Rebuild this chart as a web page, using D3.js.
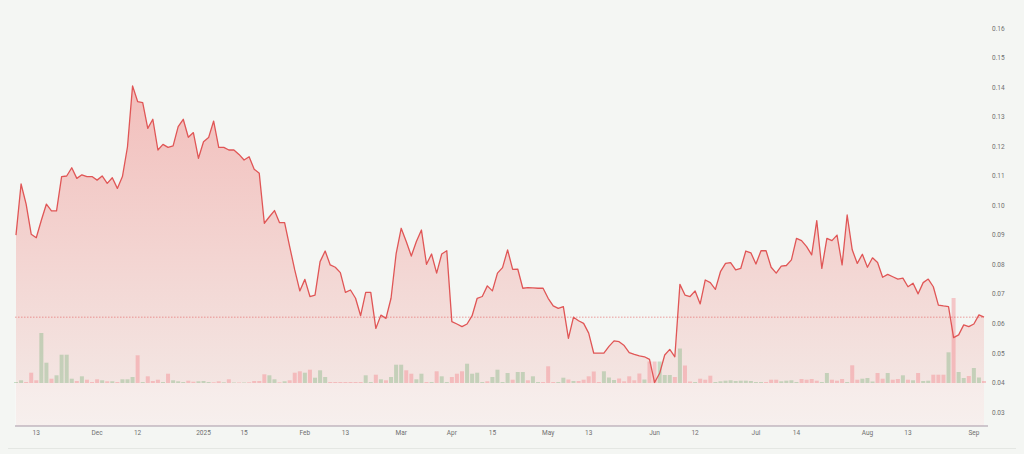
<!DOCTYPE html>
<html>
<head>
<meta charset="utf-8">
<script src="https://cdn.jsdelivr.net/npm/d3@7"></script>
<style>
  body { margin: 0; background: #f4f6f3; }
  svg { display: block; font-family: Roboto, "Noto Sans", sans-serif; }
</style>
</head>
<body>
<script>
// closing price per bar
const prices = [
  0.0900, 0.1073, 0.1005, 0.0903, 0.0891, 0.0950, 0.1005, 0.0982, 0.0982, 0.1098,
  0.1100, 0.1128, 0.1092, 0.1104, 0.1098, 0.1098, 0.1086, 0.1100, 0.1075, 0.1094,
  0.1058, 0.1098, 0.1199, 0.1405, 0.1352, 0.1348, 0.1261, 0.1292, 0.1188, 0.1207,
  0.1197, 0.1202, 0.1267, 0.1292, 0.1231, 0.1247, 0.1160, 0.1216, 0.1230, 0.1286,
  0.1197, 0.1197, 0.1188, 0.1188, 0.1173, 0.1154, 0.1165, 0.1123, 0.1109, 0.0940,
  0.0962, 0.0983, 0.0942, 0.0942, 0.0861, 0.0782, 0.0711, 0.0750, 0.0692, 0.0697,
  0.0810, 0.0846, 0.0799, 0.0791, 0.0773, 0.0706, 0.0714, 0.0686, 0.0627, 0.0706,
  0.0706, 0.0584, 0.0629, 0.0618, 0.0686, 0.0836, 0.0923, 0.0878, 0.0829, 0.0878,
  0.0917, 0.0801, 0.0836, 0.0771, 0.0836, 0.0847, 0.0607, 0.0599, 0.0590, 0.0599,
  0.0627, 0.0686, 0.0692, 0.0728, 0.0711, 0.0771, 0.0790, 0.0850, 0.0784, 0.0785,
  0.0720, 0.0722, 0.0721, 0.0720, 0.0720, 0.0686, 0.0660, 0.0652, 0.0658, 0.0550,
  0.0622, 0.0610, 0.0601, 0.0568, 0.0500, 0.0500, 0.0500, 0.0523, 0.0542, 0.0539,
  0.0526, 0.0502, 0.0496, 0.0491, 0.0488, 0.0479, 0.0401, 0.0432, 0.0494, 0.0513,
  0.0488, 0.0733, 0.0697, 0.0692, 0.0711, 0.0667, 0.0748, 0.0739, 0.0716, 0.0776,
  0.0804, 0.0807, 0.0782, 0.0787, 0.0846, 0.0840, 0.0802, 0.0847, 0.0847, 0.0791,
  0.0771, 0.0795, 0.0797, 0.0816, 0.0889, 0.0881, 0.0861, 0.0833, 0.0949, 0.0787,
  0.0889, 0.0881, 0.0900, 0.0799, 0.0968, 0.0850, 0.0804, 0.0835, 0.0791, 0.0823,
  0.0807, 0.0757, 0.0767, 0.0759, 0.0751, 0.0754, 0.0725, 0.0737, 0.0701, 0.0739,
  0.0751, 0.0725, 0.0663, 0.0660, 0.0658, 0.0553, 0.0562, 0.0596, 0.0590, 0.0599,
  0.0630, 0.0622
];

// volume per bar (millions)
const volumes = [
  0.10, 0.27, 0.10, 1.03, 0.27, 5.00, 2.03, 0.43, 0.77, 2.83,
  2.83, 0.43, 0.20, 0.67, 0.33, 0.10, 0.37, 0.27, 0.17, 0.17,
  0.10, 0.37, 0.37, 0.60, 2.77, 0.10, 0.67, 0.20, 0.33, 0.10,
  0.93, 0.27, 0.17, 0.10, 0.23, 0.13, 0.17, 0.20, 0.10, 0.07,
  0.17, 0.07, 0.37, 0.05, 0.05, 0.05, 0.07, 0.20, 0.20, 0.87,
  0.77, 0.37, 0.07, 0.17, 0.27, 1.03, 1.17, 1.03, 1.33, 0.53,
  1.27, 0.60, 0.10, 0.10, 0.10, 0.10, 0.10, 0.10, 0.10, 0.77,
  0.10, 0.83, 0.37, 0.27, 0.60, 1.83, 1.83, 1.27, 0.93, 0.37,
  0.93, 0.10, 0.10, 1.17, 0.67, 0.10, 0.60, 0.93, 1.17, 1.93,
  0.93, 1.03, 0.10, 0.17, 0.60, 1.33, 0.10, 1.00, 0.33, 1.10,
  1.10, 0.27, 0.67, 0.10, 0.10, 1.67, 0.10, 0.10, 0.53, 0.35,
  0.20, 0.20, 0.33, 0.67, 1.15, 0.10, 1.17, 0.55, 0.30, 0.45,
  0.17, 0.67, 0.27, 0.95, 0.35, 2.15, 2.15, 2.15, 0.80, 0.80,
  0.60, 3.45, 1.75, 0.15, 0.10, 0.43, 0.33, 0.73, 0.10, 0.17,
  0.23, 0.27, 0.20, 0.23, 0.23, 0.20, 0.10, 0.10, 0.10, 0.33,
  0.33, 0.17, 0.23, 0.27, 0.10, 0.40, 0.33, 0.40, 0.23, 0.10,
  1.00, 0.33, 0.23, 0.40, 0.10, 1.77, 0.33, 0.43, 0.50, 0.15,
  1.00, 0.43, 1.00, 0.33, 0.40, 0.77, 0.33, 0.27, 1.00, 0.20,
  0.23, 0.83, 0.83, 0.83, 3.07, 8.50, 1.10, 0.50, 0.70, 1.50,
  0.55, 0.20
];

// u = up bar, d = down bar (groups of 5)
const volDir = (
  "uuddd uuduu uudud ddudu duuud udddu duuud duuud dudud udddd " +
  "uudud ddudu uuddd ddddu ududu uuddu ududu udddu uuudu uuudu " +
  "uduud dduud udddd duuud ddddu dduuu duddu ddduu uuuuu uuudd " +
  "duuuu ddddu udddu dduuu ddudd ududu udddu duudu ud"
).replace(/ /g, "").split("");

// x-axis tick labels with their bar index
const xTicks = [
  { i: 4, label: "13" }, { i: 16, label: "Dec" }, { i: 24, label: "12" },
  { i: 37, label: "2025" }, { i: 45, label: "15" }, { i: 57, label: "Feb" },
  { i: 65, label: "13" }, { i: 76, label: "Mar" }, { i: 86, label: "Apr" },
  { i: 94, label: "15" }, { i: 105, label: "May" }, { i: 113, label: "13" },
  { i: 126, label: "Jun" }, { i: 134, label: "12" }, { i: 146, label: "Jul" },
  { i: 154, label: "14" }, { i: 168, label: "Aug" }, { i: 176, label: "13" },
  { i: 189, label: "Sep" }
];

const yTicks = [0.03, 0.04, 0.05, 0.06, 0.07, 0.08, 0.09, 0.10, 0.11, 0.12, 0.13, 0.14, 0.15, 0.16];

const w = 1024, h = 454;
const plotLeft = 15, plotRight = 988, axisY = 426, volBase = 383;

const data = prices.map((p, i) => ({ i: i, price: p, vol: volumes[i], dir: volDir[i] }));

const svg = d3.select("body").append("svg")
    .attr("width", w)
    .attr("height", h);

svg.append("rect")
    .attr("width", w).attr("height", h)
    .attr("fill", "#f4f6f3");

let xScale = d3.scaleLinear()
    .domain([0, prices.length - 1])
    .range([16, 984]);

let yScale = d3.scaleLinear()
    .domain([0.03, 0.16])
    .range([412.3, 28.3]);

let vScale = d3.scaleLinear()
    .domain([0, d3.max(volumes)])
    .range([volBase, volBase - 85]);

const defs = svg.append("defs");
const grad = defs.append("linearGradient")
    .attr("id", "areaGrad")
    .attr("gradientUnits", "userSpaceOnUse")
    .attr("x1", 0).attr("x2", 0)
    .attr("y1", yScale(d3.max(prices))).attr("y2", axisY);
grad.append("stop").attr("offset", "0%").attr("stop-color", "#ef5350").attr("stop-opacity", 0.34);
grad.append("stop").attr("offset", "100%").attr("stop-color", "#ef5350").attr("stop-opacity", 0.07);

// area under the line
const area = d3.area()
    .x(d => xScale(d.i))
    .y0(axisY)
    .y1(d => yScale(d.price));

svg.append("path")
    .datum(data)
    .attr("d", area)
    .attr("fill", "url(#areaGrad)");

// lighter band under the volume pane
svg.append("rect")
    .attr("x", plotLeft).attr("y", volBase)
    .attr("width", xScale(prices.length - 1) - plotLeft)
    .attr("height", axisY - volBase)
    .attr("fill", "#ffffff").attr("opacity", 0.25);

// volume bars
svg.selectAll(".vol")
    .data(data)
    .enter()
    .append("rect")
    .attr("class", "vol")
    .attr("x", d => xScale(d.i) - 2)
    .attr("width", 4)
    .attr("y", d => vScale(d.vol))
    .attr("height", d => volBase - vScale(d.vol))
    .attr("fill", d => d.dir == "u" ? "rgba(120,175,120,0.38)" : "rgba(245,120,130,0.38)");

// price line
const line = d3.line()
    .x(d => xScale(d.i))
    .y(d => yScale(d.price));

svg.append("path")
    .datum(data)
    .attr("d", line)
    .attr("fill", "none")
    .attr("stroke", "#e05656")
    .attr("stroke-width", 1.3)
    .attr("stroke-linejoin", "round");

// last price line
const last = prices[prices.length - 1];
svg.append("line")
    .attr("x1", plotLeft).attr("x2", xScale(prices.length - 1))
    .attr("y1", yScale(last)).attr("y2", yScale(last))
    .attr("stroke", "#e05656")
    .attr("stroke-opacity", 0.7)
    .attr("stroke-width", 0.8)
    .attr("stroke-dasharray", "1.5,1.5");

// bottom axis
svg.append("line")
    .attr("x1", plotLeft).attr("x2", plotRight)
    .attr("y1", axisY).attr("y2", axisY)
    .attr("stroke", "#a697a6")
    .attr("stroke-width", 1);

svg.selectAll(".xlab")
    .data(xTicks)
    .enter()
    .append("text")
    .attr("x", d => xScale(d.i))
    .attr("y", 435)
    .attr("text-anchor", "middle")
    .style("font-size", "6.5px")
    .attr("fill", "#6f6f6f")
    .text(d => d.label);

// right price axis
svg.selectAll(".ylab")
    .data(yTicks)
    .enter()
    .append("text")
    .attr("x", 992)
    .attr("y", d => yScale(d) + 2.3)
    .style("font-size", "6.5px")
    .attr("fill", "#6f6f6f")
    .text(d => d.toFixed(2));

svg.append("line")
    .attr("x1", 8).attr("x2", 1016)
    .attr("y1", 448.5).attr("y2", 448.5)
    .attr("stroke", "#e4e7e3")
    .attr("stroke-width", 1);
</script>
</body>
</html>
